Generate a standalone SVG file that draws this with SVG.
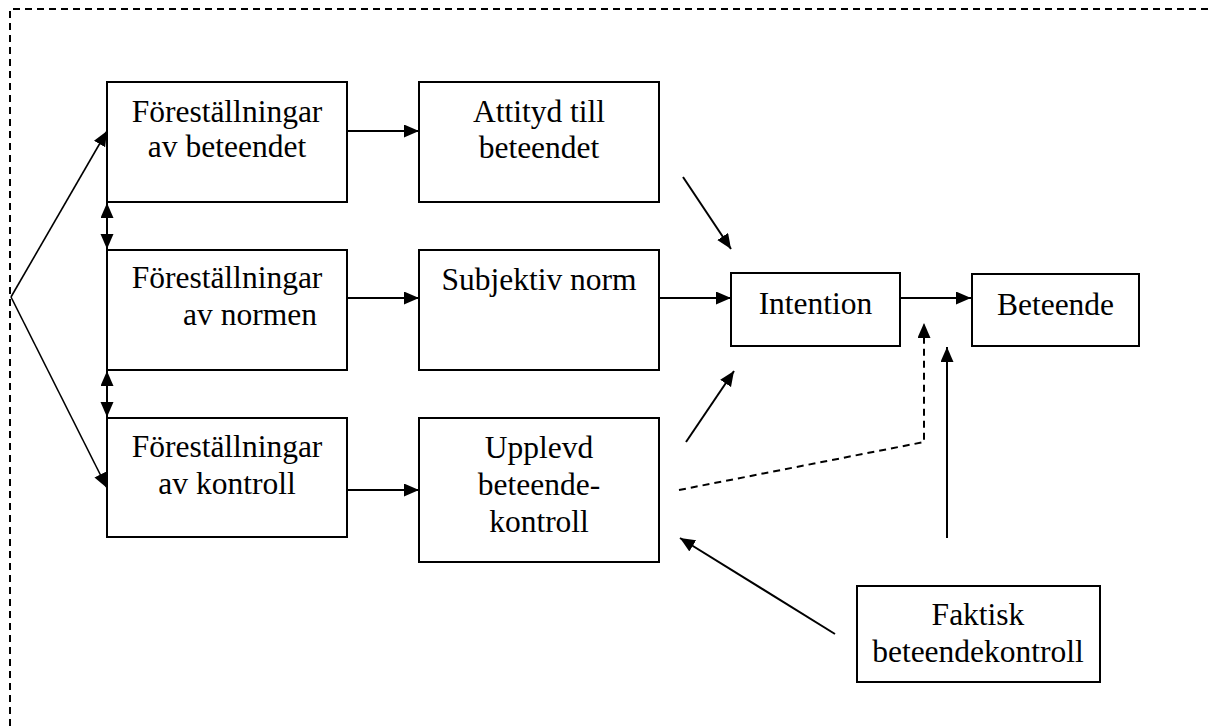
<svg xmlns="http://www.w3.org/2000/svg" width="1208" height="726" viewBox="0 0 1208 726">
<style>
.box{fill:#fff;stroke:#000;stroke-width:2}
.t{font-family:"Liberation Serif","Times New Roman",serif;font-size:31.5px;fill:#000;text-anchor:middle}
.c{fill:none;stroke:#000;stroke-width:2}
.thin{fill:none;stroke:#000;stroke-width:1.6}
.dash{fill:none;stroke:#000;stroke-width:2;stroke-dasharray:7,5}
</style>
<defs>
<marker id="ah" markerUnits="userSpaceOnUse" markerWidth="16" markerHeight="14" refX="15" refY="6.5" orient="auto-start-reverse">
<path d="M0,0 L15,6.5 L0,13 z" fill="#000" stroke="none"/>
</marker>
</defs>
<rect width="1208" height="726" fill="#fff"/>
<path class="dash" d="M10,726 L10,9 L1208,9"/>
<g id="connectors">
<line class="thin" x1="11" y1="297" x2="107" y2="131" marker-end="url(#ah)"/>
<line class="thin" x1="11" y1="297" x2="107" y2="488" marker-end="url(#ah)"/>
<line class="c" x1="107" y1="203" x2="107" y2="249" marker-start="url(#ah)" marker-end="url(#ah)"/>
<line class="c" x1="107" y1="371" x2="107" y2="417" marker-start="url(#ah)" marker-end="url(#ah)"/>
<line class="c" x1="347" y1="131" x2="419" y2="131" marker-end="url(#ah)"/>
<line class="c" x1="347" y1="298" x2="419" y2="298" marker-end="url(#ah)"/>
<line class="c" x1="347" y1="490" x2="419" y2="490" marker-end="url(#ah)"/>
<line class="c" x1="659" y1="298" x2="731" y2="298" marker-end="url(#ah)"/>
<line class="c" x1="900" y1="298" x2="971" y2="298" marker-end="url(#ah)"/>
<line class="c" x1="683" y1="177" x2="731" y2="249" marker-end="url(#ah)"/>
<line class="c" x1="686" y1="442" x2="734" y2="371" marker-end="url(#ah)"/>
<polyline class="c" style="stroke-dasharray:7,5" points="679,490 924,442 924,323" marker-end="url(#ah)"/>
<line class="c" x1="947" y1="538" x2="947" y2="347" marker-end="url(#ah)"/>
<line class="c" x1="835" y1="634" x2="680" y2="538" marker-end="url(#ah)"/>
</g>
<g id="n1"><rect class="box" x="107" y="82" width="240" height="120"/>
<text class="t" x="227" y="122">Föreställningar</text><text class="t" x="227" y="157">av beteendet</text></g>
<g id="n2"><rect class="box" x="107" y="250" width="240" height="120"/>
<text class="t" x="227" y="288">Föreställningar</text><text class="t" x="250" y="325">av normen</text></g>
<g id="n3"><rect class="box" x="107" y="418" width="240" height="119"/>
<text class="t" x="227" y="457">Föreställningar</text><text class="t" x="227" y="494">av kontroll</text></g>
<g id="n4"><rect class="box" x="419" y="82" width="240" height="120"/>
<text class="t" x="539" y="122">Attityd till</text><text class="t" x="539" y="158">beteendet</text></g>
<g id="n5"><rect class="box" x="419" y="250" width="240" height="120"/>
<text class="t" x="539" y="290">Subjektiv norm</text></g>
<g id="n6"><rect class="box" x="419" y="418" width="240" height="144"/>
<text class="t" x="539" y="458">Upplevd</text><text class="t" x="539" y="495">beteende-</text><text class="t" x="539" y="532">kontroll</text></g>
<g id="n7"><rect class="box" x="731" y="273" width="169" height="73"/>
<text class="t" x="815.5" y="314">Intention</text></g>
<g id="n8"><rect class="box" x="972" y="274" width="167" height="72"/>
<text class="t" x="1055.5" y="315">Beteende</text></g>
<g id="n9"><rect class="box" x="857" y="586" width="243" height="96"/>
<text class="t" x="978" y="625">Faktisk</text><text class="t" x="978" y="662">beteendekontroll</text></g>
</svg>
